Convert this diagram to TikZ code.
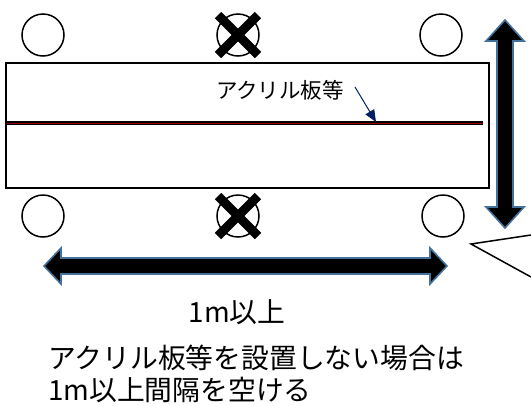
\documentclass[tikz,border=0pt]{standalone}
\usepackage{fontspec}
\setmainfont{Noto Sans CJK JP}
\usetikzlibrary{arrows.meta,calc}
\definecolor{arrowedge}{RGB}{65,113,156}
\definecolor{navy}{RGB}{0,32,96}
\definecolor{darkred}{RGB}{150,0,0}
\tikzset{
  seat/.style={draw=black, line width=1.5pt, circle, minimum size=42pt, inner sep=0pt},
  crossbar/.style={line width=9pt, black},
  bigarrow/.style={fill=black, draw=arrowedge, line width=1.6pt, line join=miter},
  bigtext/.style={font=\fontsize{27.8}{33}\selectfont, inner sep=0pt},
  smalltext/.style={font=\fontsize{21.5}{26}\selectfont, inner sep=0pt},
}
\begin{document}
\begin{tikzpicture}[x=1pt,y=-1pt]
\useasboundingbox (0,0) rectangle (531,405);
% table
\node[draw=black, line width=2pt, minimum width=483pt, minimum height=125pt, inner sep=0pt, anchor=north west] (table) at (4.5,62) {};
% acrylic partition
\coordinate (pl) at (7,123);
\coordinate (pr) at (483,123);
\draw[line width=3.5pt, black] (pl) -- (pr);
\draw[line width=1pt, darkred] (pl) -- (pr);
% label
\node[smalltext, anchor=center] (lbl) at (280,90) {アクリル板等};
\coordinate (lblstart) at (355,87);
\coordinate (lblend) at (376,122);
\draw[navy, line width=1pt, -{Triangle[length=12pt,width=10pt]}] (lblstart) -- (lblend);
% seats top
\node[seat] (s1) at (43,35) {};
\node[seat] (s2) at (238,35) {};
\node[seat] (s3) at (441,35) {};
% seats bottom
\node[seat] (s4) at (43,216) {};
\node[seat] (s5) at (238,216) {};
\node[seat] (s6) at (443,216) {};
% crosses
\draw[crossbar] ($(s2)+(-20,-20)$) -- ($(s2)+(20,20)$);
\draw[crossbar] ($(s2)+(20,-20)$) -- ($(s2)+(-20,20)$);
\draw[crossbar] ($(s5)+(-20,-20)$) -- ($(s5)+(20,20)$);
\draw[crossbar] ($(s5)+(20,-20)$) -- ($(s5)+(-20,20)$);
% vertical double arrow
\coordinate (vt) at (505,20);
\coordinate (vb) at (505,228);
\draw[bigarrow] (vt) -- ++(19,21) -- ++(-11,0) -- ($(vb)+(8,-21)$) -- ++(11,0) -- (vb)
  -- ++(-19,-21) -- ++(11,0) -- ($(vt)+(-8,21)$) -- ++(-11,0) -- cycle;
% horizontal double arrow
\coordinate (hl) at (44,266);
\coordinate (hr) at (447,266);
\draw[bigarrow] (hl) -- ++(17,-18) -- ++(0,10) -- ($(hr)+(-17,-8)$) -- ++(0,-10) -- (hr)
  -- ++(-17,18) -- ++(0,-10) -- ($(hl)+(17,8)$) -- ++(0,10) -- cycle;
% callout pointer
\coordinate (c1) at (531,235);
\coordinate (ctip) at (471,244);
\coordinate (c2) at (531,277);
\draw[line width=1.5pt, black, line join=miter] (c1) -- (ctip) -- (c2);
% texts
\node[bigtext] (dist) at (237,312) {1m以上};
\node[bigtext, anchor=west] (note1) at (48,358) {アクリル板等を設置しない場合は};
\node[bigtext, anchor=west] (note2) at (48,390) {1m以上間隔を空ける};
\end{tikzpicture}
\end{document}
